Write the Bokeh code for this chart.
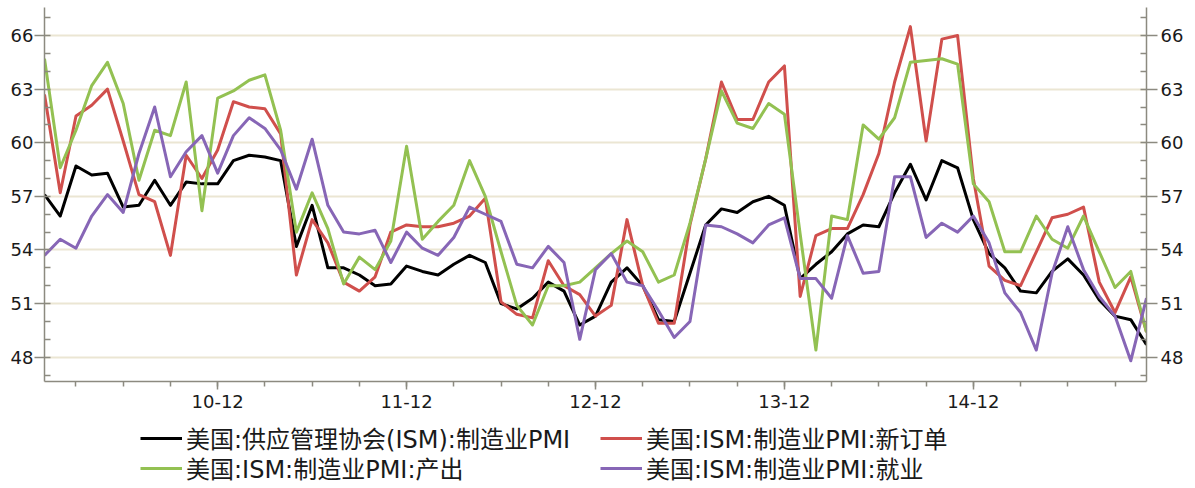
from bokeh.plotting import figure
from bokeh.models import Range1d, LinearAxis, FixedTicker, Legend, LegendItem
from bokeh.layouts import column
from bokeh.embed import file_html
from bokeh.resources import INLINE

# Monthly data, 2010-01 .. 2015-11 (index 0..70)
months = list(range(71))

pmi = [57.1, 55.9, 58.7, 58.2, 58.3, 56.4, 56.5, 57.9, 56.5, 57.8, 57.7, 57.7,
       59.0, 59.3, 59.2, 59.0, 54.2, 56.5, 53.0, 53.0, 52.6, 52.0, 52.1, 53.1,
       52.8, 52.6, 53.2, 53.7, 53.3, 51.0, 50.7, 51.3, 52.2, 51.7, 49.8, 50.3,
       52.2, 53.0, 52.0, 50.1, 50.0, 52.7, 55.4, 56.3, 56.1, 56.7, 57.0, 56.5,
       52.4, 53.2, 53.9, 54.9, 55.4, 55.3, 57.2, 58.8, 56.8, 59.0, 58.6, 55.7,
       53.8, 53.0, 51.7, 51.6, 52.8, 53.5, 52.6, 51.2, 50.3, 50.1, 48.7]

new_orders = [62.7, 57.2, 61.5, 62.1, 63.0, 60.1, 57.1, 56.7, 53.7, 59.3, 58.0, 59.6,
              62.3, 62.0, 61.9, 60.5, 52.6, 55.7, 54.4, 52.2, 51.7, 52.5, 55.0, 55.4,
              55.3, 55.3, 55.5, 55.9, 56.9, 51.1, 50.4, 50.2, 53.4, 52.0, 51.5, 50.3,
              50.9, 55.7, 52.0, 49.9, 49.9, 55.4, 59.1, 63.4, 61.3, 61.3, 63.4, 64.3,
              51.4, 54.8, 55.2, 55.2, 57.1, 59.4, 63.4, 66.5, 60.1, 65.8, 66.0, 58.0,
              53.1, 52.3, 52.0, 53.9, 55.8, 56.0, 56.4, 52.2, 50.5, 52.5, 49.4]

production = [64.7, 58.6, 60.7, 63.2, 64.5, 62.2, 57.9, 60.7, 60.4, 63.4, 56.2, 62.5,
              62.9, 63.5, 63.8, 60.7, 55.0, 57.2, 55.2, 52.1, 53.6, 52.9, 54.5, 59.8,
              54.6, 55.6, 56.5, 59.0, 57.0, 53.9, 50.9, 49.8, 52.0, 52.0, 52.2, 53.0,
              53.8, 54.5, 53.9, 52.2, 52.6, 55.5, 59.1, 62.9, 61.1, 60.8, 62.2, 61.6,
              54.9, 48.4, 55.9, 55.7, 61.0, 60.2, 61.4, 64.5, 64.6, 64.7, 64.4, 57.7,
              56.7, 53.9, 53.9, 55.9, 54.6, 54.1, 55.9, 53.9, 51.9, 52.8, 49.4]

employment = [53.7, 54.6, 54.1, 55.9, 57.1, 56.1, 59.4, 62.0, 58.1, 59.5, 60.4, 58.3,
              60.4, 61.4, 60.8, 59.6, 57.4, 60.2, 56.5, 55.0, 54.9, 55.1, 53.3, 55.0,
              54.1, 53.7, 54.7, 56.4, 56.0, 55.6, 53.2, 53.0, 54.2, 53.3, 49.0, 52.9,
              53.8, 52.2, 52.0, 50.6, 49.1, 50.0, 55.4, 55.3, 54.9, 54.4, 55.4, 55.8,
              52.4, 52.4, 51.3, 54.8, 52.7, 52.8, 58.1, 58.1, 54.7, 55.5, 55.0, 55.9,
              54.4, 51.6, 50.5, 48.4, 52.7, 55.3, 52.9, 51.4, 50.3, 47.8, 51.3]

series_names = ["美国:供应管理协会(ISM):制造业PMI", "美国:ISM:制造业PMI:新订单",
                "美国:ISM:制造业PMI:产出", "美国:ISM:制造业PMI:就业"]
series_colors = ["#000000", "#d04f4c", "#93c152", "#8766b6"]
series_values = [pmi, new_orders, production, employment]

x_major = [11, 23, 35, 47, 59]
x_labels = ["10-12", "11-12", "12-12", "13-12", "14-12"]
x_minor = list(range(2, 71, 3))
y_major = [48, 51, 54, 57, 60, 63, 66]
y_minor = list(range(47, 68))

FONT = "DejaVu Sans"
AXIS_COLOR = "#8c8a80"
TOTAL_W = 1190

p = figure(frame_width=1102, frame_height=374, output_backend="svg", toolbar_location=None,
           x_range=Range1d(0, 70), y_range=Range1d(46.64, 67.57),
           min_border_left=44, min_border_right=44, min_border_top=7,
           min_border_bottom=40, outline_line_color=None)

p.xgrid.grid_line_color = None
p.ygrid.grid_line_color = "#ebe6d3"
p.ygrid.grid_line_width = 2
p.ygrid.ticker = FixedTicker(ticks=y_major)

# x axis
xa = p.xaxis[0]
xa.ticker = FixedTicker(ticks=x_major, minor_ticks=x_minor)
xa.major_label_overrides = {k: v for k, v in zip(x_major, x_labels)}
xa.major_tick_out = 8
xa.major_tick_in = 0
xa.minor_tick_out = 5
xa.minor_tick_in = 0
xa.major_label_standoff = 5

# left y axis
ya = p.yaxis[0]
ya.ticker = FixedTicker(ticks=y_major, minor_ticks=y_minor)
ya.major_tick_out = 10
ya.major_tick_in = 0
ya.minor_tick_in = 6
ya.minor_tick_out = 0
ya.major_label_standoff = 1

yr = LinearAxis(ticker=FixedTicker(ticks=y_major, minor_ticks=y_minor))
yr.major_tick_out = 11
yr.major_tick_in = 0
yr.minor_tick_in = 6
yr.minor_tick_out = 0
yr.major_label_standoff = 3
p.add_layout(yr, "right")

for ax in [xa, ya, yr]:
    ax.axis_line_color = AXIS_COLOR
    ax.axis_line_width = 1.5
    ax.major_tick_line_color = AXIS_COLOR
    ax.minor_tick_line_color = AXIS_COLOR
    ax.major_tick_line_width = 1.5
    ax.minor_tick_line_width = 1.5
    ax.major_label_text_font = FONT
    ax.major_label_text_font_size = "18px"
    ax.major_label_text_color = "#1a1a1a"

for vals, col in zip(series_values, series_colors):
    p.line(months, vals, line_color=col, line_width=3, line_join="round")

# Legend strip under the chart (its own ranges keep the proxy lines out of view)
lf = figure(width=TOTAL_W, height=64, output_backend="svg", toolbar_location=None,
            x_axis_location=None, y_axis_location=None, outline_line_color=None,
            min_border_left=0, min_border_right=0, min_border_top=0, min_border_bottom=0,
            x_range=Range1d(0, 1), y_range=Range1d(0, 1))
lf.xgrid.grid_line_color = None
lf.ygrid.grid_line_color = None
proxies = [lf.line(months, vals, line_color=c, line_width=3)
           for vals, c in zip(series_values, series_colors)]

for (a, b), ypos in [((0, 1), 30), ((2, 3), 0)]:
    lg = Legend(items=[LegendItem(label=series_names[a], renderers=[proxies[a]]),
                       LegendItem(label=series_names[b], renderers=[proxies[b]])],
                orientation="horizontal", location=(96, ypos))
    lg.label_text_font = "DejaVu Sans, Noto Sans CJK SC"
    lg.label_text_font_size = "24px"
    lg.label_text_color = "#1a1a1a"
    lg.glyph_width = 42
    lg.glyph_height = 24
    lg.label_height = 24
    lg.label_width = 410
    lg.label_standoff = 4
    lg.spacing = 4
    lg.padding = 0
    lg.margin = 0
    lg.border_line_color = None
    lg.background_fill_alpha = 0
    lf.add_layout(lg, "center")

layout = column(p, lf, spacing=0)
open("out.html", "w").write(file_html(layout, INLINE))
